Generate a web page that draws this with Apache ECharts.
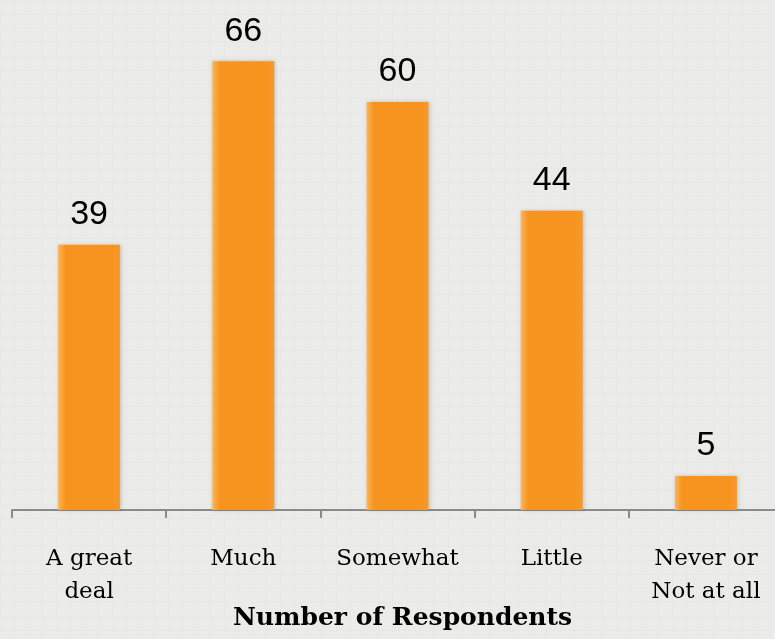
<!DOCTYPE html>
<html>
<head>
<meta charset="utf-8">
<script src="https://cdn.jsdelivr.net/npm/echarts@6/dist/echarts.min.js"></script>
<style>
  html, body {
    margin: 0; padding: 0; overflow: hidden;
    width: 775px; height: 639px;
    background-color: #ebebea;
    background-image:
      linear-gradient(rgba(0,0,0,0.012) 1px, transparent 1px),
      linear-gradient(90deg, rgba(0,0,0,0.012) 1px, transparent 1px);
    background-size: 14px 14px;
  }
  /* 图表比窗口略宽，最后一段轴线延伸到画面外 */
  #chart { width: 783px; height: 639px; }
</style>
</head>
<body>
<div id="chart"></div>
<script>
// categories and respondent counts
const categories = ['A great\ndeal', 'Much', 'Somewhat', 'Little', 'Never or\nNot at all'];
const respondents = [39, 66, 60, 44, 5];
const axisTitle = 'Number of Respondents';

const chart = echarts.init(document.getElementById('chart'));

chart.setOption({
  backgroundColor: 'transparent',
  animation: false,
  grid: {
    left: 12,
    top: 0,
    right: 0,
    height: 510
  },
  xAxis: {
    type: 'category',
    data: categories,
    axisLine: {
      lineStyle: { color: '#8a8a8a', width: 2 }
    },
    axisTick: {
      show: true,
      interval: 0,
      length: 8,
      lineStyle: { color: '#8a8a8a', width: 2 }
    },
    axisLabel: {
      interval: 0,
      margin: 33,
      color: '#000',
      fontFamily: 'DejaVu Serif',
      fontSize: 23,
      lineHeight: 33
    }
  },
  yAxis: {
    type: 'value',
    min: 0,
    max: 75,
    show: false,
    splitLine: { show: false }
  },
  series: [{
    type: 'bar',
    data: respondents,
    barWidth: 62,
    itemStyle: {
      // 橙色柱子，左右边缘稍亮
      color: new echarts.graphic.LinearGradient(0, 0, 1, 0, [
        { offset: 0, color: '#fbb55a' },
        { offset: 0.12, color: '#f7941f' },
        { offset: 0.88, color: '#f7941f' },
        { offset: 1, color: '#f49a30' }
      ]),
      shadowColor: 'rgba(0,0,0,0.18)',
      shadowBlur: 4,
      shadowOffsetX: 1
    },
    label: {
      show: true,
      position: 'top',
      distance: 13,
      color: '#000',
      fontFamily: 'Liberation Sans',
      fontSize: 34
    }
  }],
  graphic: [{
    type: 'text',
    left: 233,
    top: 606,
    style: {
      text: axisTitle,
      fill: '#000',
      font: 'bold 25px "DejaVu Serif"'
    }
  }]
});
</script>
</body>
</html>
